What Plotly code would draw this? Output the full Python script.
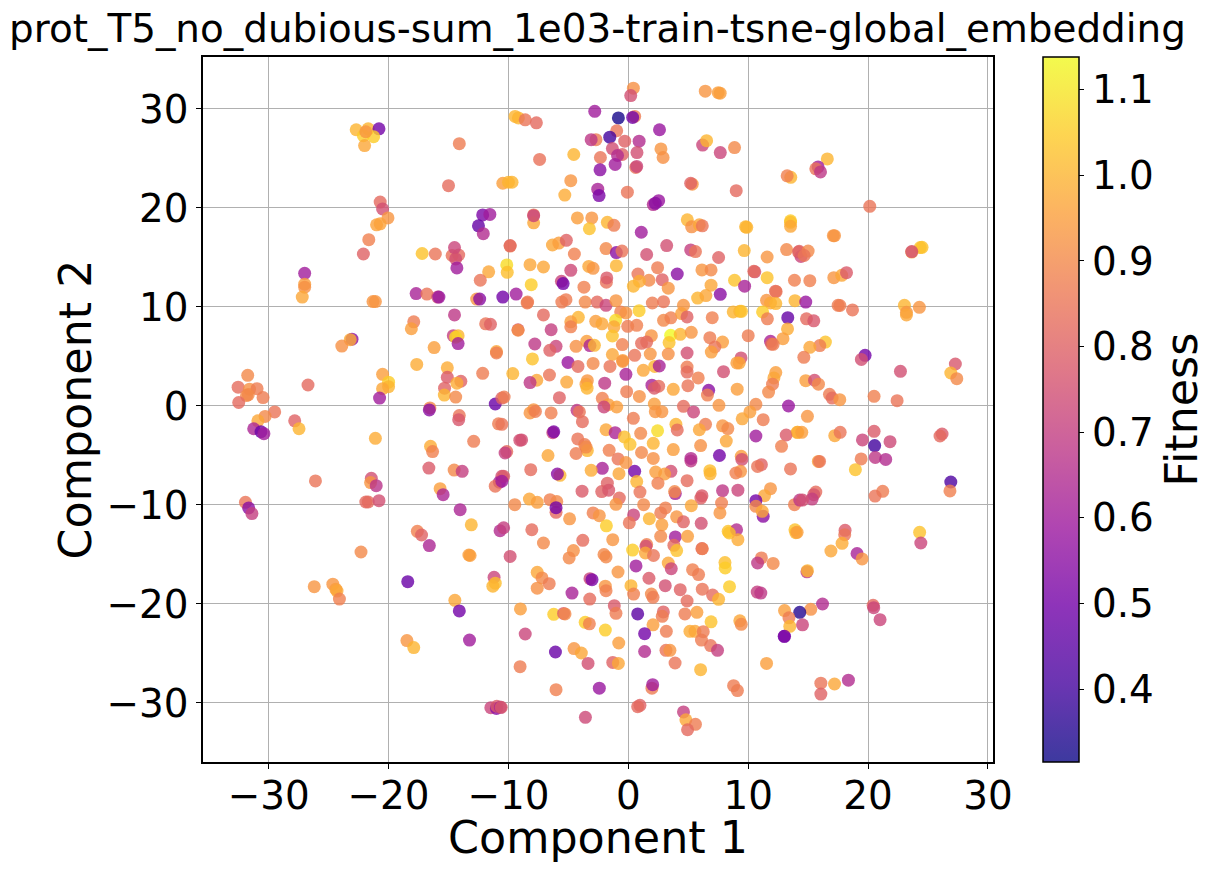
import plotly.graph_objects as go
import plotly.colors as pc

# Values, region by region (left/centre/right, top/middle/bottom)
x_top_left = [-22.7,-21.7,-20.8,-22.1,-21.25,-21.9,-22.0,-14.1,-15.0,-20.7,
 -20.5,-20.05,-21.0,-20.7,-21.65,-22.1,-17.2,-16.1,-12.15,-11.55,
 -12.5,-12.1,-14.15,-14.7,-14.5,-14.4,-14.3,-11.65,-12.35,-27.0,
 -27.0,-27.0,-27.2]
y_top_left = [27.9,28.0,28.0,27.3,27.2,27.7,26.3,26.5,22.25,20.6,
 19.9,19.0,18.3,18.4,16.8,15.35,15.4,15.35,19.3,19.35,
 18.2,17.4,15.25,15.2,16.0,14.85,13.95,13.55,12.7,13.4,
 12.3,12.0,11.0]
f_top_left = [1.0,1.0,0.5,1.05,1.05,0.93,0.97,0.87,0.83,0.82,
 0.75,0.93,0.96,0.96,0.88,0.8,1.03,0.85,0.52,0.6,
 0.47,0.65,0.82,0.84,0.72,0.75,0.6,0.97,0.85,0.6,
 0.95,0.92,0.97]

x_mid_left = [-21.3,-21.1,-17.7,-16.8,-15.9,-15.8,-12.65,-12.4,-10.47,-14.5,
 -17.9,-18.1,-11.9,-11.5,-23.05,-23.2,-23.9,-14.6,-14.2,-14.4,
 -14.2,-16.2,-11.0,-11.0,-17.65,-15.1,-12.15,-15.1,-20.5,-20.0,
 -13.97,-14.3,-15.33,-15.35,-14.4,-20.0,-20.5,-20.75,-26.72,-31.75,
 -32.55,-31.6,-30.97,-31.85,-31.7,-30.47,-32.5,-29.5,-30.3,-30.9,
 -27.83,-27.47,-31.25,-30.64,-30.4,-21.1,-16.55,-16.6,-14.1,-14.15,
 -11.1,-10.55,-10.83,-12.9,-16.5,-16.33,-16.64,-14.53,-13.86,-26.1,
 -21.44,-21.5,-21.03,-10.55,-10.75,-11.1,-15.7,-15.45,-21.9,-21.7,
 -20.8,-14.03,-13.1,-31.94,-31.67,-31.4,-17.6]
y_mid_left = [10.55,10.55,11.35,11.3,11.0,11.0,10.8,10.8,11.0,9.2,
 8.5,7.8,8.3,8.25,6.75,6.7,6.05,7.1,7.1,6.95,
 6.3,5.9,5.5,5.35,4.2,3.85,3.3,2.9,3.2,2.4,
 2.5,2.3,1.8,1.1,0.9,1.95,1.75,0.8,2.12,3.1,
 1.9,1.7,1.75,1.05,1.15,0.85,0.35,-0.6,-1.05,-1.5,
 -1.5,-2.3,-2.3,-2.6,-2.8,-3.27,-0.2,-0.4,-0.97,-1.38,
 0.2,0.8,-1.8,-3.57,-4.07,-4.6,-6.27,-6.47,-6.6,-7.57,
 -7.3,-7.74,-8.05,-7.1,-7.7,-8.1,-8.35,-8.96,-9.7,-9.7,
 -9.56,-10.47,-12.0,-9.73,-10.3,-10.87,-12.66]
f_mid_left = [0.93,0.93,0.62,0.85,0.75,0.58,0.93,0.55,0.5,0.68,
 0.87,0.95,0.85,0.8,0.55,0.98,0.92,0.7,1.0,1.07,
 0.6,0.95,0.97,0.87,0.98,0.98,0.87,0.78,0.95,1.05,
 0.8,0.98,0.8,1.0,0.9,1.0,0.97,0.6,0.82,0.9,
 0.83,0.92,0.87,0.9,0.9,0.87,0.82,0.85,0.9,0.97,
 0.8,1.0,0.63,0.48,0.6,0.98,0.9,0.55,0.85,0.77,
 0.48,0.8,0.87,0.87,0.98,0.88,0.78,0.9,0.7,0.85,
 0.75,0.93,0.67,0.75,0.62,0.85,0.95,0.63,0.82,0.82,
 0.75,0.63,1.0,0.85,0.55,0.7,0.88]

x_bot_left = [-17.25,-16.6,-13.3,-13.2,-22.3,-18.4,-26.2,-24.65,-24.4,-24.3,
 -24.1,-11.2,-11.1,-11.3,-14.47,-14.1,-18.47,-17.9,-13.25,-11.47,
 -11.0,-10.97,-10.7]
y_bot_left = [-13.03,-14.1,-15.05,-15.1,-14.75,-17.75,-18.25,-18.0,-18.5,-18.7,
 -19.5,-17.3,-17.9,-18.2,-19.63,-20.7,-23.7,-24.4,-23.64,-30.47,
 -30.55,-30.33,-12.6]
f_bot_left = [0.8,0.63,0.95,0.95,0.9,0.48,0.93,0.93,0.95,0.97,
 0.88,0.72,1.02,1.0,0.97,0.5,0.93,1.0,0.6,0.72,
 0.55,0.78,0.65]

x_top_mid = [0.42,0.2,6.42,7.5,7.66,-9.45,-9.17,-8.6,-7.67,-2.8,
 -0.83,0.53,0.36,2.6,-0.97,-2.7,-3.1,-1.55,-0.3,0.9,
 6.2,6.53,8.86,7.67,2.72,2.9,-1.33,0.72,-0.5,-0.9,
 -2.33,-4.55,-7.4,-1.1,-2.36,0.62,0.7,-4.8,5.33,5.2,
 -10.47,-10.0,-9.7,13.55,13.25,-5.3,-2.55,-2.44,-0.08,9.0,
 2.53,2.08,2.25,-7.9,-7.9,-7.9,-4.25,-3.05,-1.75,-1.2,
 -3.25,1.08,4.92,5.28,5.92,6.17,9.78,9.88,13.53,13.53,
 13.53,-9.86,-9.86,-6.33,-5.8,-5.17,-4.5,-1.86,-1.0,-0.53,
 1.53,3.2,5.2,5.6,7.53,9.67,11.58,13.2,14.2,14.4,
 -10.14,-10.1,-8.2,-7.08,-4.8,-3.3,-2.94,-1.0,-1.83,-1.8,
 0.8,2.44,1.72,2.83,4.08,6.14,6.9,10.55,10.47,11.58,
 8.86,13.86,9.7,6.9,-5.58,-5.44,-8.1,-3.7,0.92,0.42,
 3.33,12.28]
y_top_mid = [32.1,31.35,31.8,31.65,31.6,29.25,29.1,28.9,28.6,29.76,
 29.1,29.25,29.15,27.9,27.8,26.9,26.9,27.15,26.75,26.75,
 26.35,26.8,26.1,25.6,25.96,25.1,26.0,25.6,25.4,25.3,
 25.1,25.4,24.9,24.4,23.85,24.1,24.2,22.76,22.4,22.5,
 22.5,22.6,22.6,23.1,23.25,21.3,21.9,21.25,21.6,21.75,
 20.74,20.34,20.47,19.3,18.5,19.22,19.0,19.0,18.55,18.25,
 17.9,17.55,18.8,18.1,18.3,18.2,18.1,18.05,18.7,18.55,
 18.15,16.15,16.2,16.26,16.46,16.73,15.35,15.9,15.5,15.65,
 15.3,16.2,15.76,15.6,15.0,15.7,15.05,15.8,15.55,15.1,
 14.25,13.5,14.27,14.04,13.7,14.1,13.9,14.17,12.5,12.93,
 13.33,13.97,12.7,12.76,13.33,13.74,13.74,13.55,13.6,12.96,
 12.7,12.7,12.1,12.2,12.6,12.36,12.25,12.0,12.6,12.1,
 11.9,11.6]
f_top_mid = [0.92,0.75,0.93,0.95,0.95,1.0,1.0,0.85,0.82,0.6,
 0.33,0.87,0.5,0.58,0.85,0.87,0.68,0.4,0.8,0.65,
 0.72,1.0,0.9,0.72,0.93,0.92,0.75,0.75,0.8,0.65,
 0.85,1.0,0.84,0.6,0.55,0.85,0.72,0.93,0.93,0.8,
 0.95,1.0,1.0,1.0,0.88,0.98,0.62,0.52,0.85,0.82,
 0.58,0.65,0.55,0.87,0.97,0.72,0.95,0.93,1.0,0.87,
 1.03,0.6,1.0,0.92,0.97,0.85,1.0,1.0,1.05,1.02,
 0.97,0.87,0.82,0.97,0.95,0.8,0.88,0.9,0.55,0.85,
 0.75,0.75,0.7,0.85,0.8,1.0,0.93,0.9,0.83,0.72,
 1.08,1.02,0.97,0.97,0.73,0.97,0.93,1.0,0.84,0.78,
 0.85,0.87,0.9,0.8,0.55,0.93,0.9,0.75,0.82,1.03,
 1.03,0.88,0.62,0.97,0.72,0.5,1.05,0.88,0.98,1.0,
 0.93,0.82]

x_centre_a = [-9.36,-8.44,-8.4,-5.55,-5.2,-3.6,-2.6,-1.86,-1.03,-0.64,
 -0.2,0.9,2.0,2.94,4.6,5.78,6.47,7.67,12.33,11.53,
 11.86,12.3,13.9,8.75,9.3,9.44,11.2,13.3,11.6,-7.08,
 -4.17,-4.8,-4.8,-2.72,-2.2,-1.06,-1.2,-0.05,0.7,2.94,
 3.55,4.44,4.9,7.0,-9.2,-9.2,-6.44,3.53,4.33,5.25,
 1.92,-1.33,10.0,13.28,12.9,6.8,7.86,7.22,6.92,3.4,
 1.53,1.1,-0.5,-7.8,-6.03,-6.55,-4.36,-3.47,-3.2,-2.83,
 11.86,11.95,12.08,-1.33,1.83,3.33,4.9,0.53,-8.0,-5.03,
 -4.2,-2.94,-1.53,-0.47,-0.47,9.4,9.25,9.05,1.25,2.2,
 2.58,4.9,4.9,7.94,-9.64,-6.58,-0.2,5.83,12.3,12.14,
 12.03,11.7,-7.64,-8.2,-5.14,-3.42,-3.53,-3.44,-1.97,1.97,
 2.53,2.17,4.97,3.75,-0.14,6.7,6.6,9.08,-10.36,-5.75,
 0.92,-2.17,-1.67,2.17,-2.03,-0.97,4.6,7.56,10.64,13.36]
y_centre_a = [11.3,10.4,10.5,10.5,10.74,10.5,10.5,10.17,10.64,9.5,
 9.4,9.63,10.4,10.54,10.17,10.9,11.15,11.28,11.55,10.67,
 10.4,10.34,10.64,9.5,9.56,9.56,9.5,8.92,8.8,9.2,
 8.96,8.5,8.0,8.55,8.3,8.65,8.0,8.05,8.15,8.65,
 8.9,9.33,9.0,8.92,7.7,7.65,7.7,7.14,7.24,7.44,
 7.1,7.07,7.1,7.78,6.8,6.9,6.46,5.96,5.45,6.4,
 6.46,6.33,6.2,6.26,6.03,5.62,6.03,6.53,6.1,6.13,
 6.53,6.25,6.23,5.2,5.25,5.25,5.35,5.12,4.75,4.4,
 4.0,4.3,4.0,4.6,4.5,4.85,4.35,4.35,3.6,4.0,
 4.04,3.94,3.43,3.47,3.27,3.13,3.2,2.83,3.37,2.83,
 2.2,1.4,2.6,2.36,2.42,2.56,2.2,1.8,2.3,2.1,
 2.0,1.8,2.05,1.68,1.45,1.58,1.1,1.7,0.9,0.84,
 0.97,0.77,0.13,0.2,-0.1,-0.1,-0.03,0.07,0.17,0.0]
f_centre_a = [0.6,0.87,0.87,0.87,0.87,0.9,0.82,0.72,0.93,0.88,
 0.93,1.05,0.87,0.85,0.93,1.0,0.97,0.55,0.85,0.93,
 0.97,1.0,1.0,1.0,1.0,1.03,1.05,0.47,0.87,0.82,
 1.0,0.95,0.88,0.95,0.97,1.08,0.97,0.87,0.88,0.9,
 0.88,0.95,0.8,0.88,0.75,0.92,0.7,1.14,1.0,0.93,
 0.93,1.03,0.87,0.98,0.95,0.87,0.95,0.85,0.95,1.03,
 0.82,0.83,0.88,0.68,0.72,0.8,0.92,0.95,0.63,1.0,
 0.62,0.82,0.87,0.97,0.93,0.92,0.75,0.85,1.03,0.58,
 0.83,0.9,0.85,0.95,0.93,0.75,0.97,0.95,0.97,1.0,
 0.62,0.87,0.83,0.75,1.0,0.85,0.62,0.88,0.95,0.97,
 0.87,0.9,0.97,0.68,0.97,0.93,0.95,1.0,0.68,0.62,
 0.83,0.78,0.85,0.97,0.87,0.55,0.88,0.95,0.87,0.8,
 0.92,0.88,0.95,0.95,0.72,0.95,0.83,0.93,0.9,0.58]

x_centre_b = [-7.9,-8.2,-7.75,-6.44,-4.28,-4.08,2.25,2.8,5.44,10.14,
 9.5,11.25,0.42,-3.83,-10.55,3.97,4.08,6.44,5.92,7.86,
 8.3,14.08,13.17,-1.86,-1.1,-6.3,-6.22,1.03,2.44,-0.33,
 -4.22,10.64,-8.9,-9.05,0.14,8.17,2.08,-3.64,6.03,12.78,
 -10.14,-10.28,-3.42,-3.53,-1.6,3.75,-4.36,1.1,-6.7,7.6,
 5.22,5.22,2.08,9.42,9.47,-0.86,-0.2,11.1,10.78,13.53,
 -2.17,-8.14,3.55,-3.1,2.28,3.03,0.53,6.8,6.83,9.36,
 8.97,-0.78,-5.7,-5.92,0.7,2.47,4.9,-1.75,-3.86,-2.22,
 -1.64,0.97,3.92,3.86,6.05,6.14,7.86,9.14,11.86,11.36,
 10.64,10.64,11.25,11.17,13.86,14.3,-10.4,-10.55,-0.75,-1.03,
 7.78,7.64,5.25,1.28,3.1,2.7,0.44,1.75,4.03,4.6,
 6.08,2.8,0.08,-9.47,-8.25,-7.6,-6.53,-5.97,-6.03,-6.03,
 -4.9,-2.94,-2.42,-1.83,-8.05,-10.4,8.33,9.03,13.9]
y_centre_b = [-0.37,-0.7,-0.55,-0.7,-0.44,-0.6,-0.57,-0.57,-0.6,-0.6,
 -1.3,-1.38,-1.25,-1.58,-1.85,-1.85,-2.42,-1.85,-2.4,-2.0,
 -2.28,-2.66,-2.93,-2.4,-2.7,-2.7,-2.6,-2.76,-2.5,-3.13,
 -3.33,-3.03,-3.43,-3.45,-3.87,-3.54,-3.77,-3.9,-4.0,-4.07,
 -4.6,-4.75,-4.5,-4.15,-4.48,-4.4,-4.8,-4.7,-5.0,-5.0,
 -5.55,-5.3,-5.3,-5.08,-5.4,-5.35,-5.72,-5.93,-6.1,-6.36,
 -6.3,-6.43,-6.6,-6.5,-6.67,-6.87,-6.6,-6.53,-6.85,-6.6,
 -6.77,-6.84,-7.0,-6.87,-7.64,-7.8,-7.54,-7.8,-8.6,-8.65,
 -8.5,-8.7,-8.85,-8.65,-9.3,-9.06,-8.55,-8.5,-8.35,-9.06,
 -9.56,-10.13,-11.15,-10.64,-9.97,-9.5,-7.1,-7.6,-9.3,-9.93,
 -9.8,-10.8,-10.07,-9.97,-10.3,-10.8,-11.0,-11.38,-11.2,-11.7,
 -11.85,-12.0,-11.8,-9.97,-9.4,-9.73,-9.46,-9.66,-10.74,-10.27,
 -11.4,-10.8,-11.08,-12.1,-12.5,-12.3,-12.66,-12.5,-12.5]
f_centre_b = [0.93,0.93,0.87,0.88,0.68,0.85,0.93,0.93,0.72,0.95,
 0.97,0.87,0.87,0.83,0.85,1.0,0.83,0.87,0.97,0.93,
 0.9,1.0,0.78,0.97,0.63,0.72,0.52,0.9,1.08,1.02,
 0.85,0.6,0.75,0.75,1.03,0.97,1.0,0.87,0.92,0.88,
 0.83,0.7,1.0,0.9,0.88,0.95,0.87,0.9,0.97,0.5,
 0.68,0.65,0.92,0.95,0.75,0.85,0.93,0.8,0.85,0.85,
 0.62,0.83,0.75,0.98,0.95,0.95,0.5,1.02,1.0,0.93,
 0.88,0.97,1.0,0.55,1.0,0.88,0.83,0.8,0.78,0.8,
 0.77,0.85,0.62,0.9,0.8,0.78,0.68,0.72,0.93,0.97,
 0.5,0.9,0.55,0.97,0.88,0.68,0.78,0.6,0.82,0.93,
 0.88,0.93,0.97,0.9,0.88,0.87,0.72,1.0,0.93,0.8,
 0.75,0.95,0.85,0.9,0.97,0.95,0.88,0.9,0.82,0.5,
 0.93,0.88,0.93,1.05,0.83,0.7,1.03,0.65,1.03]

x_bot_mid = [-7.08,-3.8,-1.3,-4.58,-4.94,-2.03,-1.86,0.36,1.53,1.47,
 1.42,2.1,2.7,3.92,4.94,3.8,4.03,6.14,6.17,8.42,
 9.14,11.1,10.78,12.08,-9.86,-7.6,-7.2,-6.6,-7.6,-0.86,
 0.64,3.33,3.58,5.36,5.86,8.06,8.08,1.72,3.08,4.33,
 6.17,8.44,7.03,7.53,4.9,-3.2,-3.03,-1.92,-1.86,0.22,
 0.44,1.92,2.06,-4.7,-3.22,10.75,11.05,-1.17,-1.03,-9.0,
 -6.22,-5.4,-5.28,-3.6,-3.25,-1.92,-8.6,0.78,2.92,2.83,
 4.72,5.72,6.9,9.3,9.42,2.06,1.36,3.17,5.14,5.56,
 6.25,6.1,6.86,7.44,13.0,-0.8,-4.53,-3.92,-6.08,1.36,
 3.14,3.47,-9.03,-3.36,-1.3,-0.83,3.9,6.03,11.53,-6.03,
 -2.42,1.97,2.03,8.78,9.1,-10.67,-10.6,0.97,0.78,4.6,
 4.8,5.6,4.94,-3.58]
y_bot_mid = [-13.84,-13.57,-13.5,-14.6,-15.35,-15.0,-15.25,-14.55,-14.0,-14.17,
 -14.85,-15.1,-13.17,-13.23,-13.17,-14.07,-14.6,-14.4,-14.42,-12.83,
 -13.5,-15.35,-15.86,-15.9,-15.2,-16.8,-17.37,-17.95,-18.4,-16.77,
 -16.16,-15.86,-16.43,-16.53,-17.03,-15.82,-16.36,-17.4,-18.15,-18.55,
 -18.5,-18.25,-19.1,-19.53,-19.7,-17.44,-17.54,-18.2,-18.65,-18.15,
 -19.0,-19.0,-19.33,-18.9,-19.5,-18.8,-18.9,-20.17,-20.94,-20.5,
 -21.04,-20.95,-21.0,-21.85,-22.0,-22.63,-23.03,-21.0,-20.8,-21.25,
 -21.0,-20.84,-21.8,-21.7,-22.05,-22.1,-23.0,-22.76,-22.76,-22.76,
 -22.8,-23.64,-24.2,-24.68,-23.27,-23.94,-24.5,-24.95,-24.85,-24.8,
 -24.68,-24.68,-26.33,-26.0,-25.9,-26.0,-25.96,-26.63,-26.0,-28.65,
 -28.5,-28.5,-28.15,-28.25,-28.75,-30.44,-30.44,-30.24,-30.37,-30.9,
 -31.7,-32.15,-32.7,-31.45]
f_bot_mid = [0.9,0.83,0.93,0.92,0.9,0.9,0.9,1.05,0.88,0.75,
 0.97,0.85,0.9,0.6,0.95,0.83,1.03,0.8,0.88,1.03,
 0.98,0.87,0.68,0.9,0.75,0.97,0.9,0.87,0.92,0.93,
 0.6,0.97,0.72,0.88,0.87,1.02,1.05,0.78,0.75,0.8,
 0.85,1.05,0.83,1.0,0.83,0.72,0.52,0.93,0.88,1.0,
 0.88,0.9,0.87,0.62,0.83,0.7,0.68,0.78,0.87,0.95,
 1.05,0.78,0.9,1.05,0.88,1.05,0.72,0.45,0.8,0.87,
 0.87,0.95,1.03,0.97,0.9,0.95,0.5,0.87,0.98,0.97,
 0.87,0.87,0.85,0.7,0.5,0.95,0.93,0.97,0.48,0.65,
 0.85,0.93,0.87,0.75,0.8,0.97,0.85,1.0,0.95,0.88,
 0.58,0.87,0.6,0.87,0.87,0.62,0.78,0.8,0.82,0.7,
 0.97,0.87,0.82,0.73]

x_right = [16.6,15.83,15.64,16.03,20.14,17.1,17.2,24.35,24.5,23.64,
 23.64,14.25,15.0,14.67,15.14,17.14,17.8,18.2,14.8,17.5,
 17.65,18.7,23.03,23.2,23.2,24.28,14.86,15.47,16.44,15.97,
 15.14,14.64,19.75,19.44,27.28,22.7,26.9,27.4,14.8,15.53,
 15.86,16.78,17.0,17.64,20.5,22.42,14.94,14.14,14.47,17.22,
 17.67,20.5,19.53,21.83,20.55,20.6,21.47,19.42,18.94,15.85,
 15.95,26.17,26.0,26.9,26.83,21.22,20.58,15.64,15.47,15.33,
 14.53]
y_right = [24.95,24.15,23.95,23.64,20.17,17.2,17.2,16.0,16.03,15.55,
 15.6,15.62,15.65,15.2,12.66,12.96,13.2,13.47,10.5,10.17,
 10.15,9.7,10.17,9.46,9.2,9.97,8.8,8.6,6.46,6.1,
 5.93,4.92,5.12,4.7,4.24,3.5,3.33,2.76,2.56,2.6,
 2.2,1.18,0.8,0.64,0.98,0.54,-1.04,-2.66,-2.66,-3.0,
 -2.66,-2.56,-3.43,-3.6,-4.0,-5.2,-5.4,-5.35,-6.43,-5.6,
 -5.6,-2.83,-3.03,-7.68,-8.58,-8.62,-9.1,-8.7,-8.96,-9.4,
 -9.5]
f_right = [1.0,0.6,0.85,0.68,0.85,0.93,0.93,1.03,1.03,0.97,
 0.75,0.8,0.9,0.85,0.88,0.93,0.97,0.78,0.58,0.87,
 0.87,0.85,1.0,0.93,0.97,0.93,0.82,0.77,1.03,0.87,
 0.97,0.87,0.5,0.75,0.77,0.75,1.0,0.9,0.95,0.75,
 0.9,0.87,0.83,0.93,0.88,0.85,0.93,0.98,0.95,0.97,
 0.85,0.78,0.72,0.73,0.4,0.68,0.65,0.87,1.03,0.95,
 0.85,0.78,0.82,0.42,0.88,0.87,0.85,0.83,0.77,0.7,
 0.75]

x_bot_right = [18.08,18.05,13.97,14.08,24.3,24.4,17.83,16.9,19.08,19.5,
 14.9,14.94,16.2,15.22,14.3,13.03,13.4,13.47,14.53,13.03,
 20.42,20.47,21.0,16.06,17.2,18.36,16.06]
y_bot_right = [-12.56,-13.0,-12.8,-12.76,-12.76,-13.84,-13.87,-14.65,-14.9,-15.45,
 -16.75,-16.63,-20.0,-20.54,-20.84,-20.67,-21.4,-22.26,-22.1,-23.27,
 -20.13,-20.37,-21.58,-28.0,-28.08,-27.7,-29.1]
f_bot_right = [0.78,0.85,1.0,0.95,1.03,0.72,0.98,0.97,0.62,0.93,
 0.68,1.0,0.65,0.92,0.35,0.95,0.87,1.0,0.72,0.52,
 0.82,0.72,0.72,0.85,0.97,0.65,0.8]

component_1 = x_top_left + x_mid_left + x_bot_left + x_top_mid + x_centre_a + x_centre_b + x_bot_mid + x_right + x_bot_right
component_2 = y_top_left + y_mid_left + y_bot_left + y_top_mid + y_centre_a + y_centre_b + y_bot_mid + y_right + y_bot_right
fitness = f_top_left + f_mid_left + f_bot_left + f_top_mid + f_centre_a + f_centre_b + f_bot_mid + f_right + f_bot_right

x_ticks = [-30, -20, -10, 0, 10, 20, 30]
y_ticks = [-30, -20, -10, 0, 10, 20, 30]
cbar_ticks = [0.4, 0.5, 0.6, 0.7, 0.8, 0.9, 1.0, 1.1]

FONT = "DejaVu Sans"
TICK = 38.9
LABEL = 44.4
stops = pc.get_colorscale("Plasma")
scale = []
for pos, col in stops:
    r, g, b = pc.hex_to_rgb(col) if col.startswith("#") else pc.unlabel_rgb(col)
    scale.append([pos, f"rgba({int(r)},{int(g)},{int(b)},0.8)"])

W, H = 1211, 872
L, R, T, B = 202.5, 993.3, 57.3, 762.3

fig = go.Figure(go.Scatter(
    x=component_1, y=component_2, mode="markers",
    marker=dict(
        size=13, color=fitness, cmin=0.315, cmax=1.138, colorscale=scale,
        line=dict(width=0),
        colorbar=dict(
            title=dict(text="Fitness", side="right", font=dict(size=LABEL, family=FONT, color="black")),
            xref="container", x=1042.5 / W, xanchor="left",
            yref="paper", y=0, yanchor="bottom", len=1, lenmode="fraction",
            thickness=36, thicknessmode="pixels",
            outlinewidth=1.5, outlinecolor="black", borderwidth=0, xpad=0, ypad=0,
            ticks="outside", ticklen=5, tickwidth=1.1, tickcolor="black",
            tickvals=cbar_ticks, ticktext=[f"{v:.1f}" for v in cbar_ticks],
            tickfont=dict(size=TICK, family=FONT, color="black"),
        ),
    ),
    showlegend=False,
))

axis = dict(
    showgrid=True, gridcolor="#b0b0b0", gridwidth=1.1, zeroline=False,
    showline=True, linecolor="black", linewidth=1.5, mirror=True,
    ticks="outside", ticklen=5, tickwidth=1.1, tickcolor="black",
    tickfont=dict(size=TICK, family=FONT, color="black"),
)
fig.update_xaxes(axis, range=[-35.48, 30.42], tickvals=x_ticks, ticklabelstandoff=-6)
fig.update_yaxes(axis, range=[-35.96, 35.25], tickvals=y_ticks,
                 title=dict(text="Component 2", font=dict(size=LABEL, family=FONT, color="black"), standoff=1))

fig.add_annotation(text="Component 1", xref="paper", yref="paper", x=0.5, y=-(838 - B) / (B - T),
                   xanchor="center", yanchor="middle", showarrow=False,
                   font=dict(size=LABEL, family=FONT, color="black"))

fig.update_layout(
    width=W, height=H, autosize=False,
    margin=dict(l=L, r=W - R, t=T, b=H - B, pad=0),
    paper_bgcolor="white", plot_bgcolor="white",
    title=dict(text="prot_T5_no_dubious-sum_1e03-train-tsne-global_embedding",
               font=dict(size=TICK, family=FONT, color="black"),
               x=597.5 / W, xanchor="center", xref="container",
               y=1 - 28 / H, yanchor="middle", yref="container"),
    font=dict(family=FONT, color="black"),
)
fig.write_html("out.html", post_script="document.body.style.margin='0';",
               config={"displayModeBar": False})
